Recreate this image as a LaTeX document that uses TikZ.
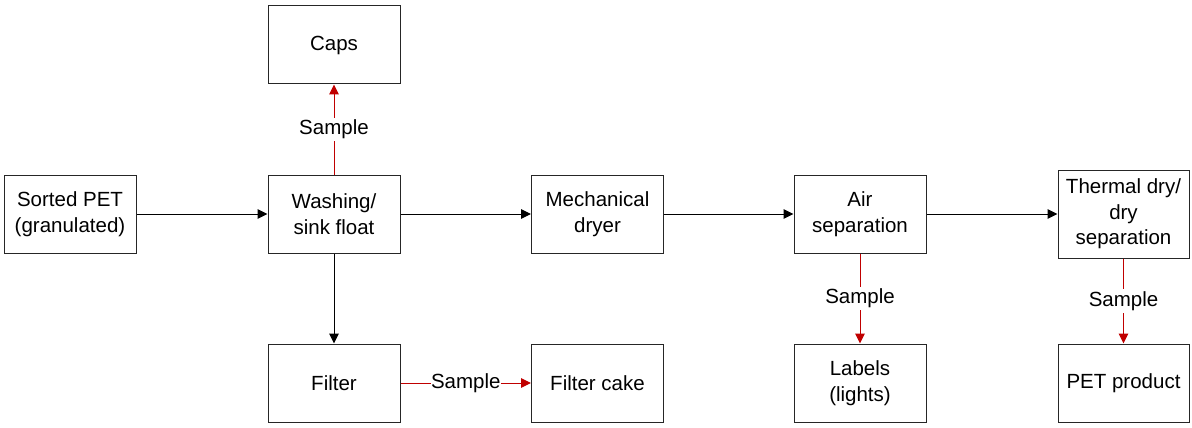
\documentclass[tikz,border=0pt]{standalone}
\usepackage{fontspec}
\setmainfont{Liberation Sans}
\usetikzlibrary{arrows.meta}
\definecolor{smpred}{HTML}{C00000}
\begin{document}
\begin{tikzpicture}[x=1pt,y=-1pt,
  box/.style={draw=black!85,line width=1pt,minimum width=132pt,minimum height=78pt,
    align=center,inner sep=2pt,font=\fontsize{20.5pt}{25.5pt}\selectfont},
  flow/.style={line width=1pt,-{Triangle[length=10pt,width=9.5pt]}},
  smp/.style={flow,draw=smpred,fill=smpred},
  lbl/.style={fill=white,inner xsep=0pt,inner ysep=2pt,text=black,font=\fontsize{20.5pt}{25.5pt}\selectfont}]
\useasboundingbox (0,0) rectangle (1192,428);
\node[box] (sorted) at (70,214) {Sorted PET\\(granulated)};
\node[box] (wash) at (334,214) {Washing/\\sink float};
\node[box] (caps) at (334,45) {Caps};
\node[box] (filter) at (334,383) {Filter};
\node[box] (cake) at (597.5,383) {Filter cake};
\node[box] (mech) at (597.5,214) {Mechanical\\dryer};
\node[box] (air) at (860,214) {Air\\separation};
\node[box,minimum width=131pt,minimum height=88pt] (thermal) at (1123.5,214) {Thermal dry/\\dry\\separation};
\node[box] (labels) at (860,383) {Labels\\(lights)};
\node[box,minimum width=131pt] (pet) at (1123.5,383) {PET product};

\draw[flow] (sorted) -- (wash);
\draw[flow] (wash) -- (mech);
\draw[flow] (mech) -- (air);
\draw[flow] (air) -- (thermal);
\draw[flow] (wash) -- (filter);
\draw[smp] (wash) -- node[lbl] {Sample} (caps);
\draw[smp] (filter) -- node[lbl,inner ysep=0pt] {Sample} (cake);
\draw[smp] (air) -- node[lbl] {Sample} (labels);
\draw[smp] (thermal) -- node[lbl] {Sample} (pet);
\end{tikzpicture}
\end{document}
